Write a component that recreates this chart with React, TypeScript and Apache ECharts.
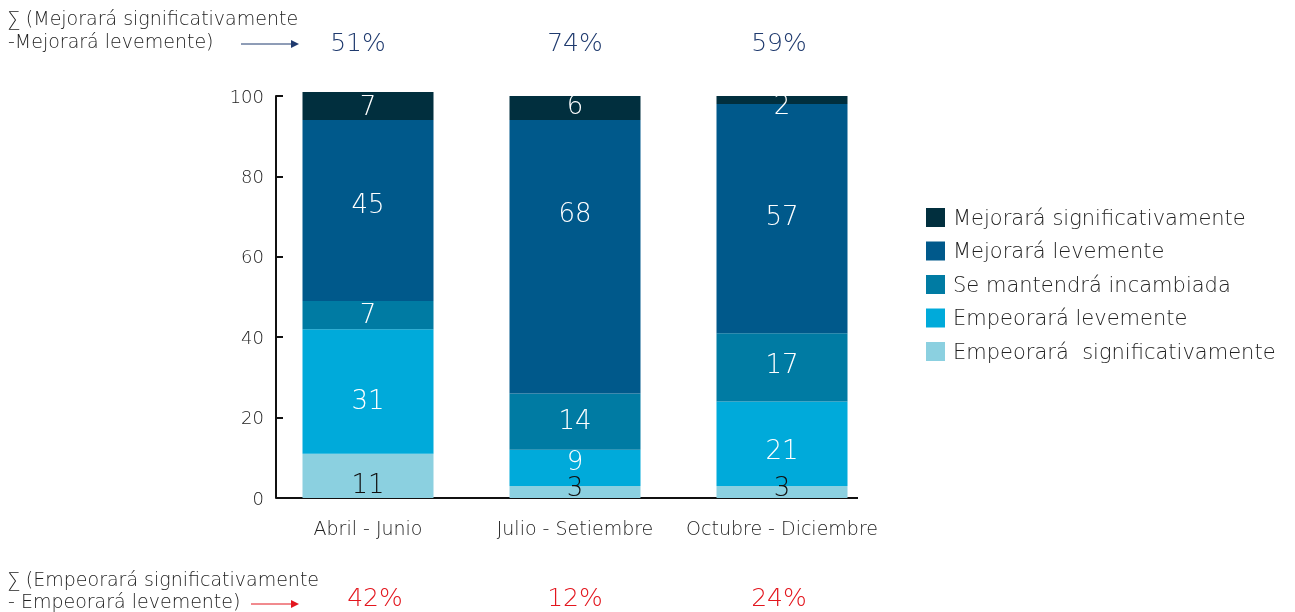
import React, { useEffect, useRef } from "react";
import * as echarts from "echarts";

const categories = ["Abril - Junio", "Julio - Setiembre", "Octubre - Diciembre"];
const seriesNames = [
  "Empeorará  significativamente",
  "Empeorará levemente",
  "Se mantendrá incambiada",
  "Mejorará levemente",
  "Mejorará significativamente",
];
const empeoraSig = [11, 3, 3];
const empeoraLev = [31, 9, 21];
const mantiene = [7, 14, 17];
const mejoraLev = [45, 68, 57];
const mejoraSig = [7, 6, 2];
const mejoraPct = ["51%", "74%", "59%"];
const empeoraPct = ["42%", "12%", "24%"];

// styling
const seriesColors = ["#8BD0E0", "#00AADA", "#007BA3", "#00598B", "#012F3E"];
const labelColors = ["#111111", "#FFFFFF", "#FFFFFF", "#FFFFFF", "#FFFFFF"];
const labelNudge = [
  [8, -5, -5],
  [9, -7, 6],
  [-1, -2, -3],
  [-7, -44, -3],
  [0, -3, 5],
];

const FONT = "'DejaVu Sans', 'Open Sans', sans-serif";
const W = 200;

export default function App() {
  const ref = useRef<HTMLDivElement>(null);
  useEffect(() => {
    if (!ref.current) return;
    const chart = echarts.init(ref.current, undefined, { renderer: "svg" });
    const values = [empeoraSig, empeoraLev, mantiene, mejoraLev, mejoraSig];
    const gridLeft = 264.5;
    const gridWidth = 621;
    const navy = "#1F3A6E";
    const red = "#E3161E";
    const txt = (text: string, y: number) => ({
      type: "text", x: 8, y,
      style: { text, fontSize: 19, fontFamily: FONT, fontWeight: W, fill: "#222", verticalAlign: "middle" },
    });
    const graphics: any[] = [
      txt("∑ (Mejorará significativamente", 18),
      txt("-Mejorará levemente)", 41),
      { type: "line", shape: { x1: 241, y1: 44, x2: 293, y2: 44 }, style: { stroke: navy, lineWidth: 1 } },
      { type: "polygon", shape: { points: [[291, 40], [299, 44], [291, 48]] }, style: { fill: navy } },
      txt("∑ (Empeorará significativamente", 579),
      txt("- Empeorará levemente)", 601),
      { type: "line", shape: { x1: 251, y1: 604, x2: 293, y2: 604 }, style: { stroke: red, lineWidth: 1 } },
      { type: "polygon", shape: { points: [[291, 600], [299, 604], [291, 608]] }, style: { fill: red } },
      { type: "line", shape: { x1: 276, y1: 498, x2: 858, y2: 498 }, style: { stroke: "#111", lineWidth: 2 } },
    ];
    const topX = [358, 575, 779];
    const botX = [375, 575, 779];
    mejoraPct.forEach((t, i) => {
      graphics.push({ type: "text", x: topX[i], y: 42, style: { text: t, fontSize: 25, fontFamily: FONT, fontWeight: W, fill: navy, align: "center", verticalAlign: "middle" } });
    });
    empeoraPct.forEach((t, i) => {
      graphics.push({ type: "text", x: botX[i], y: 597, style: { text: t, fontSize: 25, fontFamily: FONT, fontWeight: W, fill: red, align: "center", verticalAlign: "middle" } });
    });
    chart.setOption({
      animation: false,
      textStyle: { fontFamily: FONT, fontWeight: W },
      grid: { left: gridLeft, top: 96, width: gridWidth, bottom: 114, containLabel: false },
      legend: {
        orient: "vertical",
        left: 921,
        top: 202,
        itemWidth: 19,
        itemHeight: 19,
        itemGap: 12.5,
        icon: "rect",
        data: [...seriesNames].reverse(),
        textStyle: { fontSize: 21, color: "#222", fontFamily: FONT, fontWeight: W, padding: [0, 0, 0, 3] },
      },
      xAxis: {
        type: "category",
        data: categories,
        axisLine: { show: false },
        axisTick: { show: false },
        axisLabel: { interval: 0, fontSize: 19, color: "#222", margin: 20, fontFamily: FONT, fontWeight: W },
      },
      yAxis: {
        type: "value",
        min: 0,
        max: 100,
        interval: 20,
        offset: -11.5,
        splitLine: { show: false },
        axisLine: { show: true, lineStyle: { color: "#111", width: 2 } },
        axisTick: { show: true, inside: true, length: 7, lineStyle: { color: "#111", width: 2 } },
        axisLabel: { fontSize: 18, color: "#222", margin: 12, fontFamily: FONT, fontWeight: W },
      },
      series: seriesNames.map((name, si) => ({
        name,
        type: "bar",
        stack: "total",
        barWidth: 131,
        clip: false,
        data: values[si].map((v, ci) => ({
          value: v,
          label: { offset: [0, labelNudge[si][ci]] },
        })),
        itemStyle: { color: seriesColors[si] },
        label: {
          show: true,
          position: "inside",
          color: labelColors[si],
          fontSize: 26,
          fontFamily: FONT,
          fontWeight: W,
        },
      })),
      graphic: graphics,
    });
    return () => chart.dispose();
  }, []);
  return <div ref={ref} style={{ position: "fixed", left: 0, top: 0, width: 1295, height: 612 }} />;
}
